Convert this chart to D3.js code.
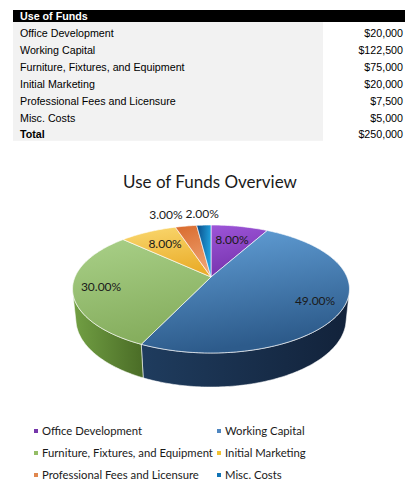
<!DOCTYPE html>
<html>
<head>
<meta charset="utf-8">
<script src="https://cdn.jsdelivr.net/npm/d3@7"></script>
<style>
  body { margin: 0; background: #fff; }
  svg { display: block; }
  .tbl { font-family: "Liberation Sans", Arial, sans-serif; font-size: 10.7px; fill: #000; }
  .chart { font-family: Lato, "Open Sans", sans-serif; fill: #1a1a1a; }
</style>
</head>
<body>
<svg id="chart" width="416" height="498"></svg>
<script>
const items = [
  "Office Development",
  "Working Capital",
  "Furniture, Fixtures, and Equipment",
  "Initial Marketing",
  "Professional Fees and Licensure",
  "Misc. Costs"
]
const amounts = [20000, 122500, 75000, 20000, 7500, 5000]
const topLight = ["#9d55d8", "#64a2da", "#a9d088", "#fad870", "#d96a2c", "#0a4a86"]
const topDark = ["#7633ad", "#2d5b8b", "#86ae5e", "#eaae2c", "#eea272", "#1fa0dc"]
const sideLight = ["#5e2a8a", "#1f3c5e", "#72a044", "#c08a1c", "#a8501c", "#06375f"]
const sideDark = ["#45206a", "#12223a", "#4a6c26", "#936812", "#7e3a12", "#04253f"]
const legendColors = ["#7536aa", "#4f86c0", "#94bd66", "#f1c232", "#e0874e", "#1073b5"]

const total = d3.sum(amounts)
const money = d3.format("$,")
const pct = d3.format(".2%")

const svg = d3.select("#chart")

// ---- table
const tableX = 13, tableRight = 405, grayRight = 323
const rowStep = 16.9, firstBase = 37

svg.append("rect")
  .attr("x", tableX).attr("y", 10)
  .attr("width", tableRight - tableX).attr("height", 12)
  .attr("fill", "#000")
svg.append("text")
  .attr("class", "tbl")
  .attr("x", 20).attr("y", 20)
  .style("fill", "#fff").style("font-weight", "bold")
  .text("Use of Funds")

const rows = items.map((d, i) => ({ label: d, value: amounts[i], bold: false }))
rows.push({ label: "Total", value: total, bold: true })

svg.append("rect")
  .attr("x", tableX).attr("y", 22)
  .attr("width", grayRight - tableX).attr("height", rows.length * rowStep + 0.5)
  .attr("fill", "#f2f2f2")

const row = svg.selectAll("g.row")
  .data(rows)
  .enter()
  .append("g")
  .attr("class", "row")
  .attr("transform", (d, i) => `translate(0,${firstBase + i * rowStep})`)

row.append("text")
  .attr("class", "tbl")
  .attr("x", 20)
  .style("font-weight", d => d.bold ? "bold" : "normal")
  .text(d => d.label)

row.append("text")
  .attr("class", "tbl")
  .attr("x", 403)
  .attr("text-anchor", "end")
  .text(d => money(d.value))

// ---- title
svg.append("text")
  .attr("class", "chart")
  .attr("x", 210).attr("y", 188)
  .attr("text-anchor", "middle")
  .style("font-size", "17px")
  .text("Use of Funds Overview")

// ---- 3d pie, simple perspective camera
const cx = 211, cy = 277
const tilt = 27 * Math.PI / 180
const dist = 4.75, focal = 646, depth = 0.25
const sinT = Math.sin(tilt), cosT = Math.cos(tilt)

function project(theta, r, h) {
  const x = r * Math.sin(theta)
  const z = r * Math.cos(theta)
  const u = z * sinT + h * cosT
  const w = dist + z * cosT - h * sinT
  return [cx + focal * x / w, cy - focal * u / w]
}

function arcPoints(a0, a1, h) {
  const n = Math.max(2, Math.ceil((a1 - a0) / (Math.PI / 180)))
  return d3.range(n + 1).map(k => project(a0 + (a1 - a0) * k / n, 1, h))
}

const pie = d3.pie().sort(null).value(d => d)
const slices = pie(amounts)
const line = d3.line()

const defs = svg.append("defs")
slices.forEach((s, i) => {
  const gt = defs.append("linearGradient")
    .attr("id", "top" + i).attr("x1", 0).attr("y1", 0).attr("x2", i === 5 ? 1 : 0.25).attr("y2", i === 5 ? 0.2 : 1)
  gt.append("stop").attr("offset", "0%").attr("stop-color", topLight[i])
  gt.append("stop").attr("offset", "100%").attr("stop-color", topDark[i])
  const gs = defs.append("linearGradient")
    .attr("id", "side" + i).attr("x1", 0).attr("y1", 0).attr("x2", 1).attr("y2", 0)
  gs.append("stop").attr("offset", "0%").attr("stop-color", sideLight[i])
  gs.append("stop").attr("offset", "100%").attr("stop-color", sideDark[i])
})

// outer wall is visible where it faces the camera
const visFrom = Math.acos(-1 / (dist * cosT))
const visTo = 2 * Math.PI - visFrom

const walls = slices
  .map((s, i) => ({ i, a0: Math.max(s.startAngle, visFrom), a1: Math.min(s.endAngle, visTo) }))
  .filter(d => d.a0 < d.a1)

svg.append("g").selectAll("path")
  .data(walls)
  .enter()
  .append("path")
  .attr("d", d => line(arcPoints(d.a0, d.a1, 0).concat(arcPoints(d.a0, d.a1, -depth).reverse())) + "Z")
  .attr("fill", d => `url(#side${d.i})`)
  .attr("stroke", "#fff")
  .attr("stroke-width", 0.7)
  .attr("stroke-opacity", 0.8)

svg.append("g").selectAll("path")
  .data(slices)
  .enter()
  .append("path")
  .attr("d", d => line([project(0, 0, 0)].concat(arcPoints(d.startAngle, d.endAngle, 0))) + "Z")
  .attr("fill", (d, i) => `url(#top${i})`)
  .attr("stroke", "#fff")
  .attr("stroke-width", 0.7)
  .attr("stroke-opacity", 0.9)

// ---- data labels
const labels = slices.map(s => {
  const mid = (s.startAngle + s.endAngle) / 2
  const share = s.value / total
  const outside = share < 0.05
  const r = outside ? 1.27 : share < 0.1 ? 0.7 : 0.8
  const p = project(mid, r, 0)
  return { text: pct(share), x: p[0], y: p[1], outside }
})

const labelText = svg.append("g").selectAll("text")
  .data(labels)
  .enter()
  .append("text")
  .attr("class", "chart")
  .attr("x", d => d.x)
  .attr("y", d => d.y)
  .attr("text-anchor", "middle")
  .attr("dy", "0.35em")
  .style("font-size", "12px")
  .text(d => d.text)

// push overlapping outside labels to the left
const nodes = labelText.nodes()
for (let i = labels.length - 2; i >= 0; i--) {
  if (!labels[i].outside || !labels[i + 1].outside) continue
  const wNext = nodes[i + 1].getComputedTextLength()
  const wCur = nodes[i].getComputedTextLength()
  const leftNext = labels[i + 1].x - wNext / 2
  if (labels[i].x + wCur / 2 > leftNext - 3) {
    labels[i].x = leftNext - 3 - wCur / 2
    d3.select(nodes[i]).attr("x", labels[i].x)
  }
}

// ---- legend
const legend = svg.append("g")
  .selectAll("g")
  .data(items)
  .enter()
  .append("g")
  .attr("transform", (d, i) => `translate(${i % 2 === 0 ? 34 : 217},${431 + Math.floor(i / 2) * 22})`)

legend.append("rect")
  .attr("x", 0).attr("y", -2)
  .attr("width", 4).attr("height", 4)
  .attr("fill", (d, i) => legendColors[i])

legend.append("text")
  .attr("class", "chart")
  .attr("x", 8)
  .attr("dy", "0.35em")
  .style("font-size", "11.3px")
  .text(d => d)
</script>
</body>
</html>
